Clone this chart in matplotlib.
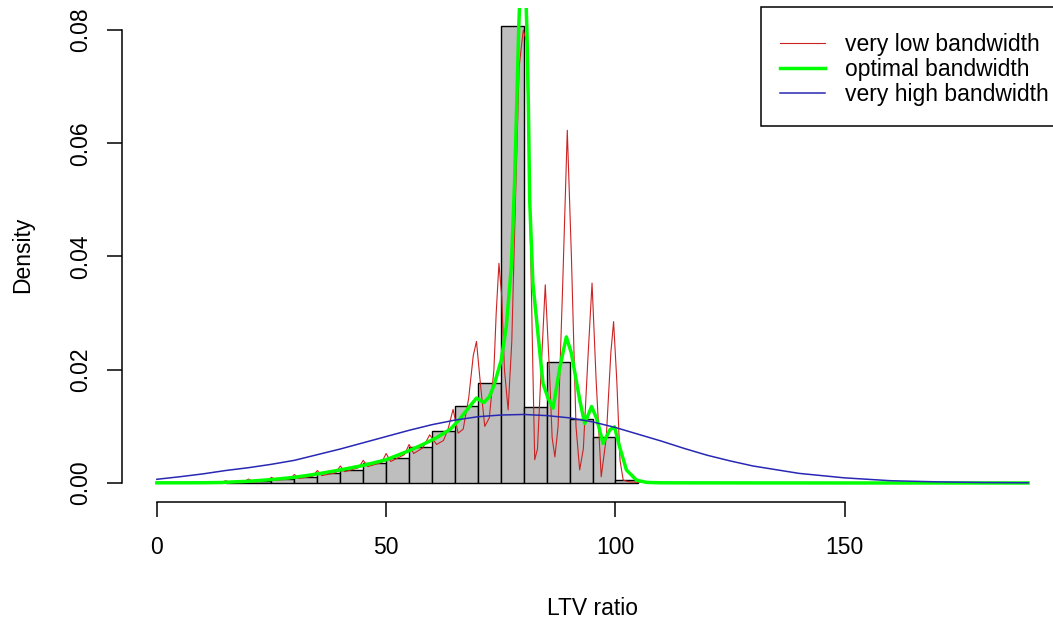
import matplotlib
matplotlib.use("Agg")
import matplotlib.pyplot as plt
from matplotlib.lines import Line2D

plt.rcParams['font.family'] = ['Liberation Sans', 'DejaVu Sans']

# histogram of LTV ratio (5-point bins, density scale)
bin_left = [15, 20, 25, 30, 35, 40, 45, 50, 55, 60, 65, 70, 75, 80, 85, 90, 95, 100]
bin_density = [0.0002, 0.00035, 0.0007, 0.0011, 0.0017, 0.0023, 0.0036, 0.0044, 0.0063,
               0.0092, 0.01365, 0.0176, 0.0807, 0.01348, 0.0213, 0.0113, 0.0082, 0.0005]
bin_width = 5

# kernel density estimates with three bandwidths
low_x = [0, 10, 14, 15, 16, 19, 20, 21, 24, 25, 26, 29, 30, 31, 34, 35, 36, 39, 40, 41,
         44, 45, 46, 49, 50, 51, 54, 55, 56, 58, 59.5, 61, 62.5, 63.5, 64.6, 65.7, 66.8,
         68.0, 69.0, 69.7, 70.5, 71.5, 72.5, 73.5, 74.0, 74.6, 75.2, 75.8, 76.6, 77.4,
         78.2, 79.0, 79.9, 80.6, 81.3, 82.0, 82.4, 83.0, 83.8, 84.7, 85.6, 86.2, 86.8,
         87.5, 88.5, 89.5, 90.4, 91.4, 92.2, 93.0, 94.0, 94.9, 95.8, 96.9, 98.0, 99.0,
         99.6, 100.3, 101.0, 101.7, 103, 105, 120, 150, 190]
low_y = [0.0, 0.0, 0.00005, 0.0004, 0.0001, 0.0002, 0.0007, 0.0002, 0.0004, 0.0010,
         0.0005, 0.0007, 0.0015, 0.0008, 0.0012, 0.0022, 0.0013, 0.0018, 0.0030, 0.0020,
         0.0027, 0.0040, 0.0029, 0.0036, 0.0052, 0.0038, 0.0050, 0.0068, 0.0052, 0.0062,
         0.0085, 0.0068, 0.0075, 0.0095, 0.0130, 0.0088, 0.0095, 0.0150, 0.0225, 0.0250,
         0.0180, 0.0100, 0.0115, 0.0200, 0.0300, 0.0388, 0.0330, 0.0200, 0.0129, 0.0250,
         0.0500, 0.0735, 0.0800, 0.0780, 0.0500, 0.0200, 0.0041, 0.0060, 0.0200, 0.0350,
         0.0200, 0.0080, 0.0046, 0.0100, 0.0350, 0.0623, 0.0400, 0.0100, 0.0023, 0.0060,
         0.0220, 0.0353, 0.0180, 0.0011, 0.0080, 0.0230, 0.0285, 0.0180, 0.0040, 0.0005,
         0.0002, 0.0001, 0.0, 0.0, 0.0]

opt_x = [0, 5, 10, 14, 17, 20, 25, 30, 35, 40, 45, 50, 55, 58, 61, 64, 66, 68, 69.7,
         71.3, 72.5, 73.5, 75.1, 76.2, 77.3, 78.0, 78.5, 78.9, 79.3, 79.8, 80.3, 80.7,
         81.0, 81.3, 82.0, 83.1, 84.2, 85.3, 86.4, 87.9, 89.3, 90.4, 92.2, 93.3, 94.8,
         95.9, 97.3, 98.8, 99.8, 100.9, 102.4, 104.6, 106.8, 110, 130, 160, 190]
opt_y = [0.00003, 0.00003, 0.00004, 0.00008, 0.0002, 0.0003, 0.0006, 0.0010, 0.0016,
         0.0023, 0.0031, 0.0041, 0.0057, 0.0068, 0.0080, 0.0095, 0.0112, 0.0133, 0.0150,
         0.0142, 0.0152, 0.0172, 0.0217, 0.0276, 0.0382, 0.0530, 0.0676, 0.0800, 0.0890,
         0.0940, 0.0900, 0.0800, 0.0676, 0.0500, 0.0353, 0.0264, 0.0176, 0.0150, 0.0132,
         0.0205, 0.0258, 0.0229, 0.0147, 0.0105, 0.0135, 0.0114, 0.0070, 0.0094, 0.0099,
         0.0064, 0.0023, 0.0005, 0.0001, 0.00003, 0.00001, 0.0, 0.0]

high_x = [0, 5, 10, 15, 20, 25, 30, 35, 40, 45, 50, 55, 60, 65, 70, 75, 80, 85, 90, 95,
          100, 105, 110, 115, 120, 125, 130, 140, 150, 160, 170, 180, 190]
high_y = [0.00065, 0.0011, 0.0016, 0.0022, 0.0027, 0.0033, 0.0040, 0.0050, 0.0060,
          0.0071, 0.0082, 0.0093, 0.0103, 0.0111, 0.0117, 0.0120, 0.0121, 0.0119, 0.0115,
          0.0108, 0.0098, 0.0086, 0.0074, 0.0061, 0.0049, 0.0039, 0.0030, 0.0017, 0.0009,
          0.0004, 0.0002, 0.00008, 0.00003]

red = '#CC2222'
green = '#00FF00'
blue = '#2828B4'
fs = 16.5

W, H = 1053, 621
fig = plt.figure(figsize=(W / 100, H / 100), dpi=100)
ax = fig.add_axes([122 / W, 1 - 502 / H, (1063 - 122) / W, (502 - 7.7) / H])

ax.bar(bin_left, bin_density, width=bin_width, align='edge',
       color='#BEBEBE', edgecolor='black', linewidth=1.0, zorder=1)
ax.plot(low_x, low_y, color=red, lw=0.8, zorder=2)
ax.plot(opt_x, opt_y, color=green, lw=2.5, zorder=3)
ax.plot(high_x, high_y, color=blue, lw=1.1, zorder=4)

ax.set_xlim(-7.6, 197.6)
ax.set_ylim(-0.00336, 0.08394)

for side in ['top', 'right']:
    ax.spines[side].set_visible(False)
ax.spines['left'].set_bounds(0, 0.08)
ax.spines['bottom'].set_bounds(0, 150)
for side in ['left', 'bottom']:
    ax.spines[side].set_linewidth(1.1)

ax.set_xticks([0, 50, 100, 150])
ax.set_yticks([0, 0.02, 0.04, 0.06, 0.08])
ax.set_yticklabels(['0.00', '0.02', '0.04', '0.06', '0.08'])
ax.tick_params(direction='out', length=10.8, width=1.1, labelsize=fs)
ax.tick_params(axis='x', pad=14)
ax.tick_params(axis='y', pad=11)
for lab in ax.get_yticklabels():
    lab.set_rotation(90)
    lab.set_va('center')

ax.set_xlabel('LTV ratio', fontsize=fs)
ax.set_ylabel('Density', fontsize=fs)
ax.xaxis.set_label_coords(0.5, -0.1922)
ax.yaxis.set_label_coords(-0.0935, 0.5)

handles = [Line2D([], [], color=red, lw=0.8),
           Line2D([], [], color=green, lw=2.5),
           Line2D([], [], color=blue, lw=1.1)]
leg = ax.legend(handles, ['very low bandwidth', 'optimal bandwidth', 'very high bandwidth'],
                loc='upper left', bbox_to_anchor=(761 / W, 1 - 7 / H),
                bbox_transform=fig.transFigure, fontsize=fs, fancybox=False,
                framealpha=1, edgecolor='black', borderpad=0.85, handlelength=1.95,
                handletextpad=0.85, labelspacing=0.1, borderaxespad=0,
                title=' ', title_fontsize=3)
leg.get_frame().set_linewidth(1.1)

fig.savefig('out.png', dpi=100)
